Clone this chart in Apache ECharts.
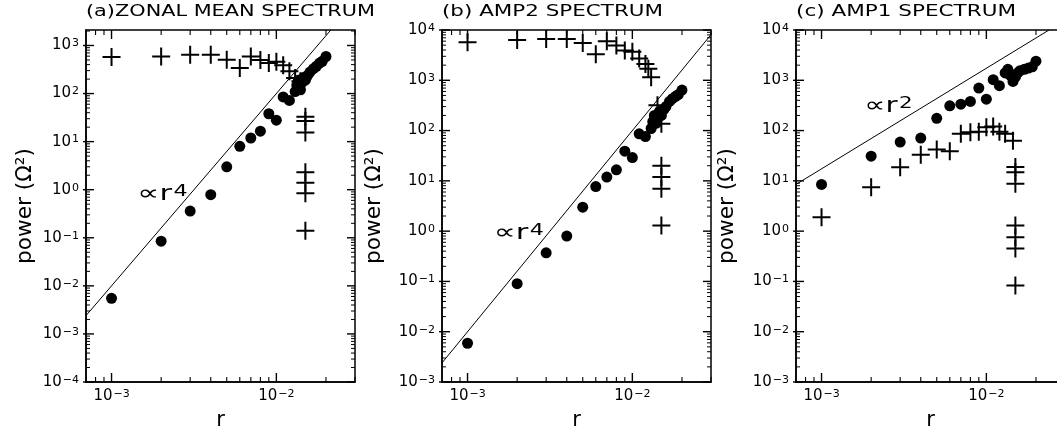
<!DOCTYPE html>
<html><head><meta charset="utf-8">
<script src="https://cdn.jsdelivr.net/npm/echarts@6/dist/echarts.min.js"></script>
<style>html,body{margin:0;padding:0;background:#fff}#c{width:1057px;height:437px}</style>
</head><body><div id="c"></div>
<script>
// ---------- data ----------
const titles = ['(a)ZONAL MEAN SPECTRUM', '(b) AMP2 SPECTRUM', '(c) AMP1 SPECTRUM'];
const xLabelText = 'r';
const yLabelText = 'power (Ω²)';

// panel (a) zonal mean
const aCircleR = [0.001,0.002,0.003,0.004,0.005,0.006,0.007,0.008,0.009,0.010,0.011,0.012,0.013,0.0133,0.0136,0.014,0.0143,0.0146,0.015,0.0155,0.016,0.0168,0.0175,0.0183,0.019,0.020];
const aCircleP = [0.0055,0.085,0.36,0.79,3.0,8.0,11.9,16.5,38,28,85,72,110,150,190,120,170,215,190,240,280,330,370,430,470,590];
const aPlusR = [0.001,0.002,0.003,0.004,0.005,0.006,0.007,0.008,0.009,0.010,0.011,0.012,0.013,0.014,0.015,0.015,0.015,0.015,0.015,0.015,0.015];
const aPlusP = [575,590,640,640,505,340,590,500,430,460,390,290,210,180,33,27,15.5,2.3,1.4,0.84,0.14];
const aLineR = [0.0007, 0.0214];
const aLineP = [0.0024, 2100];
const aNote = {r: 0.00204, p: 0.8, base: '∝r', exp: '4'};

// panel (b) amp2
const bCircleR = [0.001,0.002,0.003,0.004,0.005,0.006,0.007,0.008,0.009,0.010,0.011,0.012,0.013,0.0133,0.0136,0.014,0.0143,0.0146,0.015,0.0155,0.016,0.0168,0.0175,0.0183,0.019,0.020];
const bCircleP = [0.0059,0.09,0.37,0.8,3.0,7.7,11.9,16.6,39,29,86,76,110,150,200,140,180,240,200,260,300,380,430,480,520,640];
const bPlusR = [0.001,0.002,0.003,0.004,0.005,0.006,0.007,0.008,0.009,0.010,0.011,0.012,0.0125,0.013,0.0142,0.015,0.015,0.015,0.015,0.015];
const bPlusP = [5700,6300,6600,6600,5500,3300,6000,4900,3900,3700,2700,2100,1700,1150,320,137,20,11.9,7.0,1.3];
const bLineR = [0.0007, 0.0316];
const bLineP = [0.0024, 9970];
const bNote = {r: 0.00205, p: 0.9, base: '∝r', exp: '4'};

// panel (c) amp1
const cCircleR = [0.001,0.002,0.003,0.004,0.005,0.006,0.007,0.008,0.009,0.010,0.011,0.012,0.013,0.0135,0.014,0.0145,0.015,0.0155,0.016,0.017,0.018,0.019,0.020];
const cCircleP = [8.5,31,59,71,175,310,335,380,700,420,1030,780,1400,1650,1250,950,1150,1400,1550,1650,1750,1850,2400];
const cPlusR = [0.001,0.002,0.003,0.004,0.005,0.006,0.007,0.008,0.009,0.010,0.011,0.012,0.013,0.0145,0.015,0.015,0.015,0.015,0.015,0.015,0.015];
const cPlusP = [1.9,7.5,18.7,33,42,39,86,93,95,117,120,95,86,63,18.8,14.9,8.8,1.3,0.76,0.45,0.083];
const cLineR = [0.0007, 0.024];
const cLineP = [8.5, 10000];
const cNote = {r: 0.00255, p: 300, base: '∝r', exp: '2'};

// axes
const xRange = [0.0007, 0.03];
const yRanges = [[1e-4, 2100], [1e-3, 1e4], [1e-3, 1e4]];
const xMajorTicks = [0.001, 0.01];
const xMinorTicks = [0.0008,0.0009,0.002,0.003,0.004,0.005,0.006,0.007,0.008,0.009,0.02,0.03];
const yMajorTicksA = [1e-4,1e-3,1e-2,1e-1,1,10,100,1000];
const yMajorTicksBC = [1e-3,1e-2,1e-1,1,10,100,1000,10000];

// ---------- layout ----------
const FONT = '"DejaVu Sans", "Liberation Sans", sans-serif';
const gridRects = [
  {left: 86, top: 30, width: 269, height: 352},
  {left: 442, top: 30, width: 269, height: 352},
  {left: 796, top: 30, width: 269, height: 352}
];
const titleWidths = [289, 221, 220];
const noteWidths = [50, 50, 48];
const yLabelX = [26, 375, 728];

const panels = [
  {cr: aCircleR, cp: aCircleP, pr: aPlusR, pp: aPlusP, lr: aLineR, lp: aLineP, note: aNote, yMajor: yMajorTicksA},
  {cr: bCircleR, cp: bCircleP, pr: bPlusR, pp: bPlusP, lr: bLineR, lp: bLineP, note: bNote, yMajor: yMajorTicksBC},
  {cr: cCircleR, cp: cCircleP, pr: cPlusR, pp: cPlusP, lr: cLineR, lp: cLineP, note: cNote, yMajor: yMajorTicksBC}
];

function zip(a, b) { return a.map((v, i) => [v, b[i]]); }
function yMinor(lo, hi) {
  const out = [];
  for (let e = Math.floor(Math.log10(lo)); e <= Math.ceil(Math.log10(hi)); e++) {
    for (let k = 2; k <= 9; k++) {
      const v = +(k * Math.pow(10, e)).toPrecision(3);
      if (v > lo && v < hi) out.push(v);
    }
  }
  return out;
}
function powLabel(v) {
  const e = Math.round(Math.log10(v));
  return '{b|10}{s|' + (e < 0 ? '\u2212' + (-e) : String(e)) + '}';
}
const labelRich = {
  b: {fontSize: 15, fontFamily: FONT, color: '#000', lineHeight: 15, padding: [5, 0, 0, 0], verticalAlign: 'bottom'},
  s: {fontSize: 11, fontFamily: FONT, color: '#000', lineHeight: 11, verticalAlign: 'top', padding: [0, 0, 0, 1]}
};

const grids = [], xAxes = [], yAxes = [], series = [];
const line = {color: '#000', width: 1.5};

// tick marks drawn as thin rectangle symbols placed by the axes' own scales
function tickSeries(i, data, size, offset) {
  return {type: 'scatter', xAxisIndex: i, yAxisIndex: i, symbol: 'rect', symbolSize: size, symbolOffset: offset,
    itemStyle: {color: '#000', opacity: 1}, data: data, clip: false, silent: true, z: 5};
}

panels.forEach((p, i) => {
  const [ymin, ymax] = yRanges[i];
  grids.push(Object.assign({containLabel: false, outerBoundsMode: 'none', show: true, borderWidth: 1.5, borderColor: '#000', backgroundColor: 'transparent'}, gridRects[i]));
  xAxes.push({type: 'log', gridIndex: i, position: 'bottom', min: xRange[0], max: xRange[1],
    splitLine: {show: false}, minorTick: {show: false},
    axisLine: {show: true, onZero: false, lineStyle: line},
    axisTick: {show: false},
    axisLabel: {show: true, customValues: xMajorTicks, margin: 7, formatter: powLabel, rich: labelRich}});
  yAxes.push({type: 'log', gridIndex: i, position: 'left', min: ymin, max: ymax,
    splitLine: {show: false}, minorTick: {show: false},
    axisLine: {show: true, onZero: false, lineStyle: line},
    axisTick: {show: false},
    axisLabel: {show: true, customValues: p.yMajor, margin: 7, formatter: powLabel, rich: labelRich}});

  const ym = yMinor(ymin, ymax);
  series.push(tickSeries(i, xMajorTicks.map(v => [v, ymin]), [1.4, 9], [0, -4.5]));
  series.push(tickSeries(i, xMajorTicks.map(v => [v, ymax]), [1.4, 9], [0, 4.5]));
  series.push(tickSeries(i, xMinorTicks.map(v => [v, ymin]), [1.1, 5], [0, -2.5]));
  series.push(tickSeries(i, xMinorTicks.map(v => [v, ymax]), [1.1, 5], [0, 2.5]));
  series.push(tickSeries(i, p.yMajor.map(v => [xRange[0], v]), [11, 1.4], [2.5, 0]));
  series.push(tickSeries(i, p.yMajor.map(v => [xRange[1], v]), [8, 1.4], [-4, 0]));
  series.push(tickSeries(i, ym.map(v => [xRange[0], v]), [4, 1], [2, 0]));
  series.push(tickSeries(i, ym.map(v => [xRange[1], v]), [4, 1], [-2, 0]));

  series.push({type: 'line', xAxisIndex: i, yAxisIndex: i, symbol: 'none', clip: true,
    lineStyle: {color: '#000', width: 1}, data: zip(p.lr, p.lp), silent: true, z: 2});
  series.push({type: 'scatter', xAxisIndex: i, yAxisIndex: i, symbol: 'circle', symbolSize: 11,
    itemStyle: {color: '#000', opacity: 1}, data: zip(p.cr, p.cp), silent: true, z: 3});
  series.push({type: 'scatter', xAxisIndex: i, yAxisIndex: i, symbol: 'path://M0,9H18M9,0V18', symbolSize: 18,
    itemStyle: {color: 'none', borderColor: '#000', borderWidth: 2, opacity: 1}, data: zip(p.pr, p.pp), silent: true, z: 3});
});

const ctx = document.createElement('canvas').getContext('2d');
function measure(text, size) { ctx.font = size + 'px ' + FONT; return ctx.measureText(text).width; }

const chart = echarts.init(document.getElementById('c'), null, {renderer: 'canvas'});
chart.setOption({
  backgroundColor: '#fff',
  animation: false,
  grid: grids,
  xAxis: xAxes,
  yAxis: yAxes,
  series: series
});

const graphics = [];
panels.forEach((p, i) => {
  const g = gridRects[i];
  const t = titles[i];
  graphics.push({type: 'text', x: g.left, y: 12, scaleX: titleWidths[i] / measure(t, 16),
    style: {text: t, font: '16px ' + FONT, fill: '#000', align: 'left', verticalAlign: 'middle'}});
  graphics.push({type: 'text', x: g.left + g.width / 2, y: 421,
    style: {text: xLabelText, font: '21px ' + FONT, fill: '#000', align: 'center', verticalAlign: 'middle'}});
  graphics.push({type: 'text', x: yLabelX[i], y: g.top + g.height / 2, rotation: Math.PI / 2,
    scaleX: 116 / measure(yLabelText, 21),
    style: {text: yLabelText, font: '21px ' + FONT, fill: '#000', align: 'center', verticalAlign: 'middle'}});
  const n = p.note;
  const pt = chart.convertToPixel({xAxisIndex: i, yAxisIndex: i}, [n.r, n.p]);
  const nw = measure(n.base, 22) + measure(n.exp, 16) + 1;
  graphics.push({type: 'text', x: pt[0], y: pt[1], scaleX: noteWidths[i] / nw,
    style: {text: '{a|' + n.base + '}{e|' + n.exp + '}', align: 'center', verticalAlign: 'middle',
      rich: {a: {fontSize: 22, fontFamily: FONT, fill: '#000', lineHeight: 22, padding: [7, 0, 0, 0], verticalAlign: 'bottom'},
             e: {fontSize: 16, fontFamily: FONT, fill: '#000', lineHeight: 16, verticalAlign: 'top', padding: [0, 0, 0, 1]}}}});
});
chart.setOption({graphic: graphics});
</script></body></html>
